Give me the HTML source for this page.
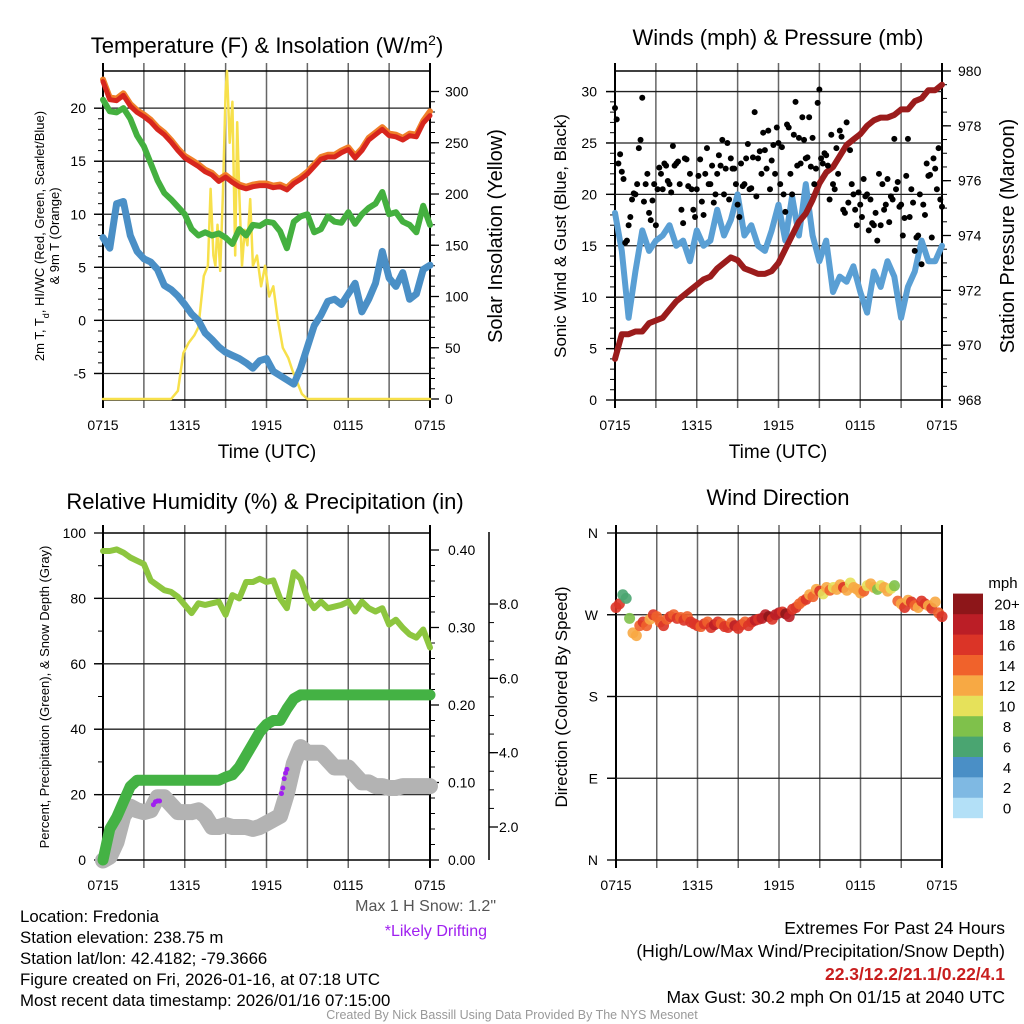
<!DOCTYPE html>
<html><head><meta charset="utf-8"><style>
html,body{margin:0;padding:0;background:#fff}
svg{display:block;font-family:"Liberation Sans",sans-serif}
</style></head><body>
<svg id="fig" width="1024" height="1024" viewBox="0 0 1024 1024" xmlns="http://www.w3.org/2000/svg">
<rect width="1024" height="1024" fill="#fff"/>
<g id="layer"></g>
<text x="267" y="53" font-size="22" text-anchor="middle">Temperature (F) &amp; Insolation (W/m<tspan baseline-shift="super" font-size="14">2</tspan>)</text>
<text x="778" y="45" font-size="22" text-anchor="middle">Winds (mph) &amp; Pressure (mb)</text>
<text x="265" y="509" font-size="22" text-anchor="middle">Relative Humidity (%) &amp; Precipitation (in)</text>
<text x="778" y="505" font-size="22" text-anchor="middle">Wind Direction</text>
<text x="267" y="458" font-size="19" text-anchor="middle">Time (UTC)</text>
<text x="778" y="458" font-size="19" text-anchor="middle">Time (UTC)</text>
<text transform="translate(44,236) rotate(-90)" font-size="13" text-anchor="middle">2m T, T<tspan baseline-shift="sub" font-size="9">d</tspan>, HI/WC (Red, Green, Scarlet/Blue)</text>
<text transform="translate(59,236) rotate(-90)" font-size="13" text-anchor="middle">&amp; 9m T (Orange)</text>
<text transform="translate(502,236) rotate(-90)" font-size="20" text-anchor="middle">Solar Insolation (Yellow)</text>
<text transform="translate(566,236) rotate(-90)" font-size="17" text-anchor="middle">Sonic Wind &amp; Gust (Blue, Black)</text>
<text transform="translate(1014,236) rotate(-90)" font-size="20" text-anchor="middle">Station Pressure (Maroon)</text>
<text transform="translate(49,697) rotate(-90)" font-size="13" text-anchor="middle">Percent, Precipitation (Green), &amp; Snow Depth (Gray)</text>
<text transform="translate(567,697) rotate(-90)" font-size="17" text-anchor="middle">Direction (Colored By Speed)</text>
<text x="1003" y="588" font-size="15" text-anchor="middle">mph</text>
<g font-size="16.8">
<text x="20" y="922">Location: Fredonia</text>
<text x="20" y="943">Station elevation: 238.75 m</text>
<text x="20" y="964">Station lat/lon: 42.4182; -79.3666</text>
<text x="20" y="985">Figure created on Fri, 2026-01-16, at 07:18 UTC</text>
<text x="20" y="1006">Most recent data timestamp: 2026/01/16 07:15:00</text>
</g>
<text x="496" y="911" font-size="16" fill="#555" text-anchor="end">Max 1 H Snow: 1.2"</text>
<text x="487" y="936" font-size="16" fill="#a020f0" text-anchor="end">*Likely Drifting</text>
<g font-size="17.5" text-anchor="end">
<text x="1005" y="934">Extremes For Past 24 Hours</text>
<text x="1005" y="957">(High/Low/Max Wind/Precipitation/Snow Depth)</text>
<text x="1005" y="980" fill="#c81e1e" font-weight="bold">22.3/12.2/21.1/0.22/4.1</text>
<text x="1005" y="1003">Max Gust: 30.2 mph On 01/15 at 2040 UTC</text>
</g>
<text x="512" y="1019" font-size="12.5" fill="#999" text-anchor="middle">Created By Nick Bassill Using Data Provided By The NYS Mesonet</text>
</svg>
<script>
const xTickLabels = ["0715","1315","1915","0115","0715"];
const tempRed = [22.5,20.8,20.7,21.2,20.2,19.6,19.2,18.7,18.0,17.5,16.8,16.0,15.3,14.9,14.5,14.0,13.7,13.1,13.5,13.0,12.6,12.4,12.6,12.7,12.7,12.5,12.6,12.3,12.9,13.3,13.8,14.5,15.2,15.4,15.4,15.8,16.1,15.3,16.0,17.0,17.5,18.0,17.4,17.3,17.0,17.4,17.3,18.6,19.3];
const temp9m = [22.7,21.0,20.9,21.4,20.4,19.8,19.4,18.9,18.2,17.7,17.0,16.2,15.5,15.1,14.7,14.2,13.9,13.3,13.7,13.2,12.8,12.6,12.8,12.9,12.9,12.7,12.8,12.5,13.1,13.5,14.0,14.7,15.4,15.6,15.6,16.0,16.3,15.5,16.2,17.2,17.7,18.2,17.6,17.5,17.2,17.6,17.5,18.8,19.7];
const dewpoint = [20.8,19.7,19.6,20.0,19.0,17.4,16.4,14.8,13.2,12.0,11.4,10.7,10.0,8.6,8.0,8.3,8.0,8.2,7.8,7.2,8.6,8.0,9.0,8.9,9.3,9.2,8.4,6.8,9.3,9.8,10.0,8.3,8.6,9.8,9.3,9.2,10.2,9.1,10.0,10.6,11.0,12.1,10.0,10.2,9.3,9.0,8.3,10.8,9.0];
const windChill = [7.8,6.8,11.0,11.2,8.0,6.5,5.8,5.5,4.8,3.3,2.9,2.3,1.5,0.6,0.0,-1.2,-1.8,-2.5,-3.0,-3.3,-3.6,-4.0,-4.5,-3.8,-3.6,-4.8,-5.2,-5.6,-6.0,-4.5,-2.5,-0.5,0.5,1.8,2.0,1.5,2.5,3.5,0.8,2.0,3.5,6.5,4.0,3.2,4.5,2.0,2.5,4.8,5.2];
const solarHours = [0,5.0,5.5,5.9,6.3,6.7,7.0,7.4,7.7,7.9,8.1,8.25,8.4,8.6,8.8,9.0,9.1,9.3,9.5,9.7,9.85,10.0,10.2,10.4,10.6,10.8,11.0,11.3,11.6,11.9,12.2,12.5,12.8,13.2,13.6,13.9,14.3,14.6,15.0,24];
const solarValues = [0,0,8,45,55,62,70,120,130,205,140,130,170,125,200,300,320,250,290,140,270,200,130,165,150,195,130,140,110,130,100,110,80,50,40,28,15,5,0,0];
const windSpeed = [18.2,14.5,8.0,12.5,16.5,14.5,15.5,16.0,17.0,15.0,15.5,13.5,16.5,15.0,15.5,18.5,16.0,17.5,20.0,16.0,17.0,15.0,14.5,16.5,19.0,15.5,19.8,16.0,21.0,16.0,13.5,15.5,10.5,12.0,11.5,13.0,10.5,8.5,12.5,11.0,13.5,12.0,8.0,11.0,12.5,15.5,13.5,13.5,15.0];
const gustA = [28.4,23.0,22.2,15.3,17.0,19.5,20.0,24.5,29.4,21.0,18.2,19.4,17.0,22.6,20.5,22.8,21.0,24.7,23.0,21.0,17.2,23.4,22.0,18.5,20.5,23.4,18.0,24.5,21.0,19.2,22.0,22.8,20.0,25.0,23.5,22.5,19.0,23.0,21.0,24.9,20.6,28.0,23.5,22.0,24.3,26.2,23.3,22.0,25.0,24.6,18.3,26.5,20.0,29.0,25.5,27.5,23.5,27.5,25.5,22.5,30.2,23.0,23.8,19.5,21.0,24.5,26.2,18.5,27.0,24.3,20.0,17.0,19.0,21.5,20.0,19.5,17.0,15.5,17.0,18.5,21.5,19.8,25.4,21.2,19.0,17.7,25.4,20.5,14.5,16.0,13.2,18.0,21.8,15.8,22.5,24.5,18.8];
const gustB = [27.3,23.9,21.5,15.5,17.8,20.1,21.0,25.3,19.3,22.0,17.5,21.0,20.5,22.0,23.0,21.3,20.2,22.8,23.2,18.5,23.5,20.8,20.5,17.8,21.8,19.3,22.0,21.0,22.8,20.0,23.8,25.3,22.5,19.5,22.5,21.0,17.8,20.8,23.5,20.5,23.6,19.8,24.2,26.0,22.5,20.5,24.8,26.5,21.0,20.0,26.8,22.0,25.8,22.8,23.0,25.3,23.6,22.7,21.0,28.9,23.5,24.0,22.8,25.8,20.5,22.0,25.6,18.2,19.2,21.0,18.5,20.2,17.8,19.8,16.5,17.2,18.2,22.0,21.0,19.0,17.3,19.5,20.5,18.8,16.0,21.8,17.8,19.2,15.8,20.0,19.0,23.0,21.9,23.5,20.5,19.5];
const pressure = [969.5,970.4,970.4,970.5,970.5,970.8,970.9,971.0,971.3,971.6,971.8,972.0,972.2,972.4,972.5,972.8,973.0,973.2,973.1,972.8,972.7,972.6,972.6,972.7,973.0,973.5,974.0,974.5,974.8,975.3,975.9,976.3,976.5,976.9,977.3,977.5,977.7,978.0,978.2,978.3,978.3,978.4,978.6,978.6,978.9,979.0,979.3,979.3,979.5];
const humidity = [94.5,94.5,95,94,92.5,91.5,90.5,85.5,84,82.5,82,80.5,78,75.5,78.5,78,78.5,79,75,81,80,85,85,86,85,85.5,80,77,88,86,80,77,79,77,77.5,78,79,76,79,77,76,77,72,73.5,71,69,68,70.5,65];
const precip = [0,0.04,0.055,0.075,0.095,0.103,0.103,0.103,0.103,0.103,0.103,0.103,0.103,0.103,0.103,0.103,0.103,0.103,0.107,0.11,0.12,0.135,0.15,0.165,0.175,0.18,0.18,0.195,0.208,0.213,0.213,0.213,0.213,0.213,0.213,0.213,0.213,0.213,0.213,0.213,0.213,0.213,0.213,0.213,0.213,0.213,0.213,0.213,0.213];
const snowDepth = [1.1,1.2,1.6,2.3,2.55,2.45,2.4,2.45,2.8,2.8,2.6,2.4,2.4,2.4,2.45,2.3,2.0,2.0,2.05,2.0,2.0,2.0,1.95,2.0,2.1,2.2,2.3,2.9,3.7,4.15,4.0,4.0,4.0,3.8,3.6,3.6,3.6,3.4,3.2,3.2,3.1,3.1,3.05,3.05,3.1,3.1,3.1,3.1,3.1];
const driftHours = [3.7,3.85,4.0,4.15,13.1,13.2,13.3,13.4,13.5];
const driftSnow = [2.6,2.68,2.7,2.7,2.9,3.05,3.3,3.45,3.55];
const windDir = [278,282,292,288,266,250,247,258,262,258,265,270,268,262,258,265,268,270,266,267,264,268,262,260,258,257,260,262,256,259,262,260,257,256,261,258,255,259,262,258,262,264,265,266,270,268,265,270,272,273,271,268,276,278,282,285,287,292,290,298,296,293,300,297,300,298,303,300,297,305,300,298,294,296,302,304,300,298,302,300,296,299,302,285,282,278,286,284,280,278,285,282,280,277,284,272,268];
const dirSpeed = [17,16,6,7,8,12,13,14,16,15,12,16,14,15,16,14,16,15,17,14,16,15,17,16,16,14,17,15,16,18,16,15,17,16,14,19,17,16,15,17,16,18,17,19,18,20,17,19,18,17,20,19,17,16,15,14,16,13,14,12,16,10,12,14,11,12,13,16,12,10,13,12,12,14,11,12,13,9,10,12,13,10,8,14,12,16,13,17,15,12,16,17,12,16,13,15,17];
const speedBins = ["0","2","4","6","8","10","12","14","16","18","20+"];
const speedColors = ["#b3e0f7","#7fb9e3","#4a8fc6","#4aa571","#7fc14b","#e6e15a","#f7a944","#f0622b","#db3427","#bb1e26","#8d1619"];
const dirLabels = ["N","E","S","W","N"];

const NS="http://www.w3.org/2000/svg";
const layer=document.getElementById('layer');
function mk(tag,attrs,parent){const e=document.createElementNS(NS,tag);for(const k in attrs)e.setAttribute(k,attrs[k]);(parent||layer).appendChild(e);return e;}
function lin(d0,d1,r0,r1){return v=>r0+(v-d0)/(d1-d0)*(r1-r0);}
function fmt(v,dec){return v.toFixed(dec);}

const P1={x0:103,x1:430,y0:71,y1:400}, P2={x0:615,x1:942,y0:71,y1:400}, P3={x0:103,x1:430,y0:533,y1:860}, P4={x0:616,x1:942,y0:533,y1:860};

function frame(p,name){
  const g=mk('g',{});
  
  
  const xs=lin(0,24,p.x0,p.x1);
  for(let h=3;h<24;h+=3){
    const l=mk('line',{x1:xs(h),x2:xs(h),y1:p.y0-8,y2:p.y1+8,stroke:'#666','stroke-width':1.5},g);
    
    
  }
  for(let i=0;i<5;i++){
    const t=mk('text',{x:xs(i*6),y:p.y1+30,'font-size':14,'text-anchor':'middle'},g);
    t.textContent=xTickLabels[i];
    
    
  }
  const b=mk('rect',{x:p.x0,y:p.y0,width:p.x1-p.x0,height:p.y1-p.y0,fill:'none',stroke:'#000','stroke-width':1.5},g);
  
  
  for(const h of [0,24]){
    const l=mk('line',{x1:xs(h),x2:xs(h),y1:p.y0-8,y2:p.y1+8,stroke:'#000','stroke-width':2},g);
    
    
  }
  return xs;
}
function yAxis(p,ys,lo,hi,step,minor,dec,side,grid,labelX,name,labels){
  const g=mk('g',{});
  
  
  const ax = side==='left'?p.x0:(labelX.axis||p.x1);
  const dir = side==='left'?-1:1;
  if(minor){for(let v=lo;v<=hi+1e-9;v+=minor){const y=ys(v);if(y<p.y0-1||y>p.y1+1)continue;
    const l=mk('line',{x1:ax,x2:ax+dir*5,y1:y,y2:y,stroke:'#000','stroke-width':1},g);
    
    }}
  let i=0;
  for(let v=lo;v<=hi+1e-9;v+=step){const y=ys(v);
    if(grid&&y>p.y0+1&&y<p.y1-1){const gl=mk('line',{x1:p.x0-9,x2:p.x1,y1:y,y2:y,stroke:'#222','stroke-width':1.3},g);
      
      }
    const l=mk('line',{x1:ax,x2:ax+dir*9,y1:y,y2:y,stroke:'#000','stroke-width':1.3},g);
    
    
    const t=mk('text',{x:labelX.x,y:y+5,'font-size':14,'text-anchor':side==='left'?'end':'start'},g);
    t.textContent=labels?labels[i]:fmt(v,dec);
    
    
    i++;}
}
function line(vals,xs,ys,color,w,name,times){
  const n=vals.length;
  const pts=vals.map((v,i)=>{const t=times?times[i]:i*24/(n-1);return xs(t).toFixed(1)+','+ys(v).toFixed(1);}).join(' ');
  const pl=mk('polyline',{points:pts,fill:'none',stroke:color,'stroke-width':w,'stroke-linejoin':'round','stroke-linecap':'round'});
  
  
  return pl;
}

// Panel 1
let xs=frame(P1,'temperature');
const y1L=lin(-7.5,23.5,P1.y1,P1.y0), y1R=lin(0,320,399,P1.y0);
yAxis(P1,y1L,-5,20,5,1,0,'left',true,{x:86},'temperature-y-axis');
yAxis(P1,y1R,0,300,50,10,0,'right',false,{x:445},'solar-y-axis');
line(solarValues,xs,y1R,'#f7e04b',2.5,'solar-line',solarHours);
line(windChill,xs,y1L,'#4a8fc6',7,'windchill-line');
line(dewpoint,xs,y1L,'#44b03f',6,'dewpoint-line');
line(temp9m,xs,y1L,'#f07f2a',6,'temp-9m-line');
line(tempRed,xs,y1L,'#d7261e',5,'temp-2m-line');

// Panel 2
xs=frame(P2,'winds');
const y2L=lin(0,32,P2.y1,P2.y0), y2R=lin(968,980,P2.y1,P2.y0);
yAxis(P2,y2L,0,30,5,1,0,'left',true,{x:597},'wind-y-axis');
yAxis(P2,y2R,968,980,2,0.5,0,'right',false,{x:958},'pressure-y-axis');
line(windSpeed,xs,y2L,'#5a9fd4',6,'wind-speed-line');
line(pressure,xs,y2R,'#9b1c1c',6,'pressure-line');
gustA.forEach((v,i)=>{const c=mk('circle',{cx:xs(i*0.25),cy:y2L(v),r:3,fill:'#000'});
  
  });
gustB.forEach((v,i)=>{const c=mk('circle',{cx:xs((i+0.5)*0.25),cy:y2L(v),r:3,fill:'#000'});
  
  });

// Panel 3
xs=frame(P3,'humidity');
const y3L=lin(0,100,P3.y1,P3.y0), y3R=lin(0,0.4,P3.y1,550), y3S=lin(2,8,827,604);
yAxis(P3,y3L,0,100,20,10,0,'left',true,{x:86},'humidity-y-axis');
yAxis(P3,y3R,0,0.4,0.1,0.02,2,'right',false,{x:448},'precip-y-axis');
const sa=mk('line',{x1:489,x2:489,y1:532,y2:860,stroke:'#000','stroke-width':1.5});


yAxis(P3,y3S,2,8,2,0.5,1,'right',false,{x:499,axis:489},'snow-y-axis');
line(snowDepth,xs,y3S,'#b3b3b3',16,'snow-depth-line');
line(precip,xs,y3R,'#44b244',11,'precip-line');
line(humidity,xs,y3L,'#8dc63f',6,'humidity-line');
driftHours.forEach((h,i)=>{const c=mk('circle',{cx:xs(h),cy:y3S(driftSnow[i]),r:2.5,fill:'#a020f0'});
  
  });

// Panel 4
xs=frame(P4,'direction');
const y4=lin(0,360,P4.y1,P4.y0);
yAxis(P4,y4,0,360,90,0,0,'left',true,{x:598},'direction-y-axis',dirLabels);
windDir.forEach((d,i)=>{const b=Math.min(10,Math.floor(dirSpeed[i]/2));
  const c=mk('circle',{cx:xs(i*0.25),cy:y4(d),r:5.5,fill:speedColors[b],'fill-opacity':0.9});
  
  });
const cb=mk('g',{});


speedBins.forEach((lab,i)=>{const y=818-(i+1)*20.4;
  const r=mk('rect',{x:953,y:y,width:30,height:20.6,fill:speedColors[i]},cb);
  
  
  const t=mk('text',{x:1007,y:y+16,'font-size':15,'text-anchor':'middle'},cb);
  t.textContent=lab;
  
  });
</script>
</body></html>
